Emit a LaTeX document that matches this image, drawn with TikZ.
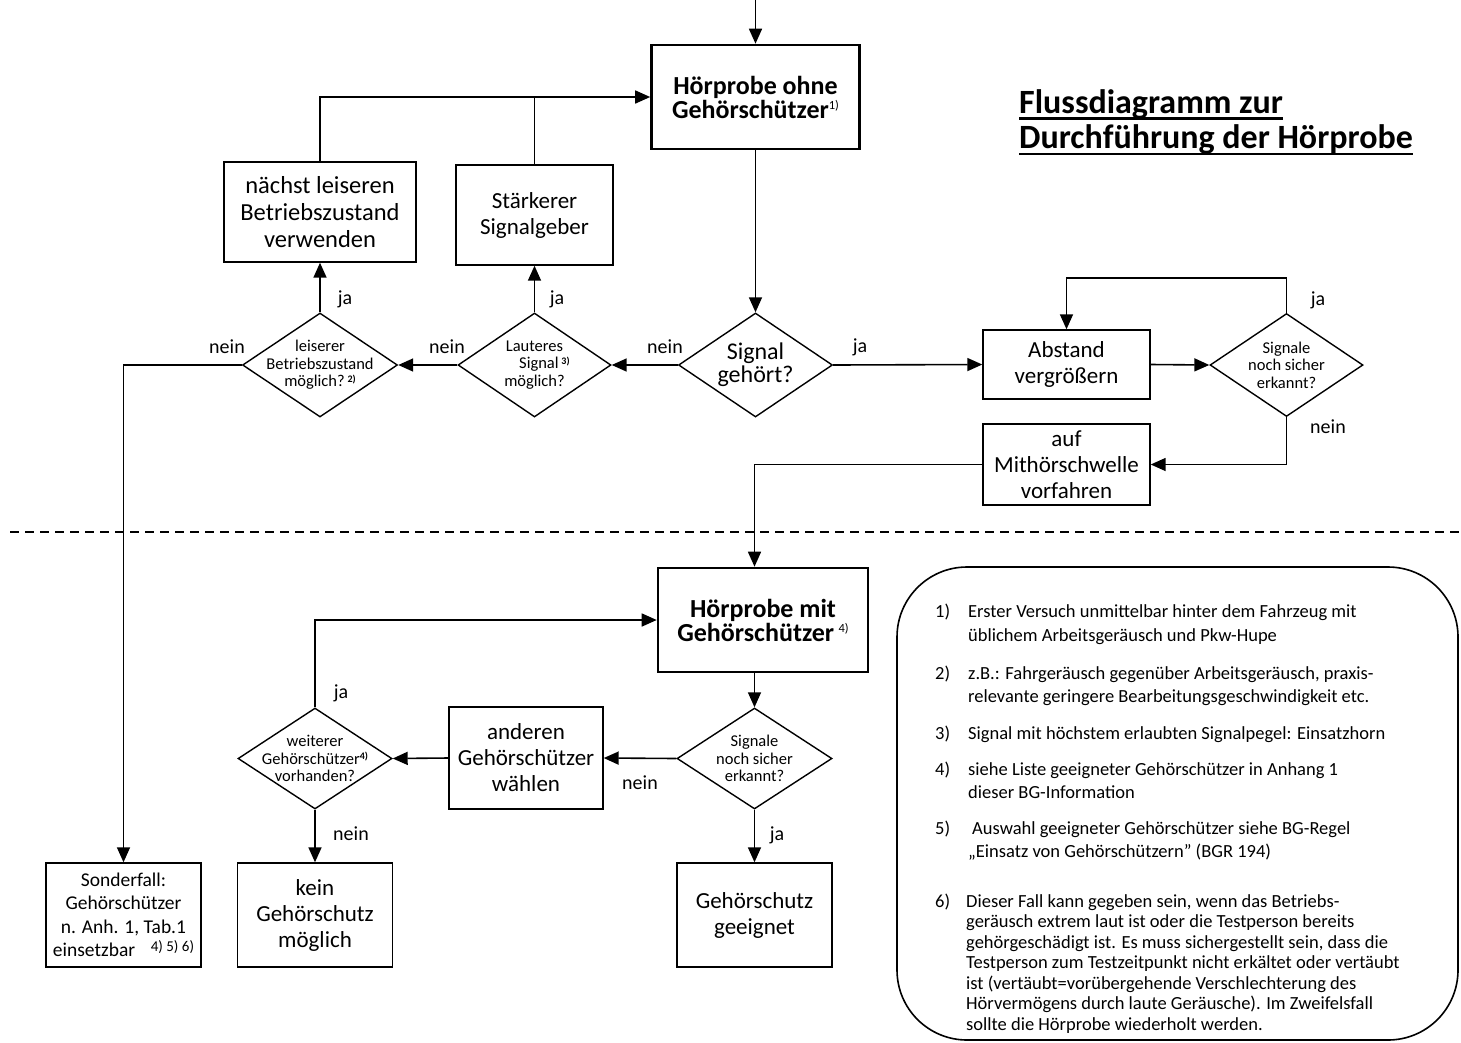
\documentclass[tikz,border=0pt]{standalone}
\usepackage{fontspec}
\setmainfont{Carlito}
\usetikzlibrary{arrows.meta,shapes.geometric,calc}
\newcommand\myfn[1]{\raisebox{0.7ex}{\mdseries\fontsize{12.5}{12.5}\selectfont #1}}
\newcommand\myfnb[1]{\raisebox{0.6ex}{\bfseries\fontsize{10}{10}\selectfont #1}}
\begin{document}
\begin{tikzpicture}[x=1pt,y=-1pt,
  box/.style={draw,line width=1.4pt,inner sep=0pt,align=center,font=\fontsize{23}{26}\selectfont},
  bbox/.style={draw,line width=2.6pt,inner sep=0pt,align=center,font=\bfseries\fontsize{26}{24}\selectfont},
  dia/.style={draw,diamond,line width=1.4pt,inner sep=0pt},
  dtext/.style={inner sep=0pt,align=center,font=\fontsize{16.5}{17.5}\selectfont},
  lab/.style={inner sep=0pt,font=\fontsize{20}{20}\selectfont},
  arr/.style={line width=1.6pt,-{Triangle[length=15pt,width=13pt]}},
  con/.style={line width=1.6pt},
  note/.style={anchor=base west,inner sep=0pt,font=\fontsize{18.5}{20}\selectfont}]
\useasboundingbox (0,0) rectangle (1461,1042);

% ---------- title ----------
\node[anchor=base west,inner sep=0pt,font=\bfseries\fontsize{34}{34}\selectfont] (t1) at (1019,113) {Flussdiagramm zur};
\node[anchor=base west,inner sep=0pt,font=\bfseries\fontsize{34}{34}\selectfont] (t2) at (1019,148) {Durchführung der Hörprobe};
\draw[line width=2.6pt] ($(t1.base west)+(0,5.5)$) -- ($(t1.base east)+(0,5.5)$);
\draw[line width=2.6pt] ($(t2.base west)+(0,6)$) -- ($(t2.base east)+(0,6)$);

% ---------- upper part ----------
\coordinate (start) at (755.5,0);
\node[bbox,minimum width=208pt,minimum height=104pt] (top) at (755.5,97) {Hörprobe ohne\\Gehörschützer\myfn{1)}};
\node[box,minimum width=192pt,minimum height=100pt,font=\fontsize{24.5}{27}\selectfont] (naechst) at (320,212) {nächst leiseren\\Betriebszustand\\verwenden};
\node[box,minimum width=157pt,minimum height=100pt] (stark) at (534.5,215) {Stärkerer\\Signalgeber};

\node[dia,minimum width=155pt,minimum height=104pt] (leis) at (320,365) {};
\node[dtext] (leist) at (leis) {leiserer\\Betriebszustand\\möglich?\,\myfnb{2)}};
\node[dia,minimum width=153pt,minimum height=104pt] (laut) at (534.5,365) {};
\node[dtext] (lautt) at (laut) {Lauteres\\\hspace*{1.2em}Signal\,\myfnb{3)}\\möglich?};
\node[dia,minimum width=154pt,minimum height=104pt] (sig) at (755.5,365) {};
\node[dtext,font=\fontsize{24}{23}\selectfont] (sigt) at (sig) {Signal\\gehört?};

\node[box,minimum width=167pt,minimum height=69pt] (abst) at (1066.5,364.5) {Abstand\\vergrößern};
\node[dia,minimum width=153pt,minimum height=103pt] (sigr) at (1286.5,365) {};
\node[dtext] (sigrt) at (sigr) {Signale\\noch sicher\\erkannt?};
\node[box,minimum width=167pt,minimum height=81pt] (auf) at (1066.5,464.5) {auf\\Mithörschwelle\\vorfahren};

% upper connectors
\draw[arr] (start) -- (top.north);
\draw[arr] (top.south) -- (sig.north);
\draw[arr] (sig.west) -- (laut.east);
\draw[arr] (laut.west) -- (leis.east);
\draw[arr] (laut.north) -- (stark.south);
\draw[arr] (leis.north) -- (naechst.south);
\draw[arr] (naechst.north) |- (top.west);
\draw[con] (stark.north) -- (stark.north |- top.west);
\draw[arr] (sig.east) -- (abst.west);
\draw[arr] (abst.east) -- (sigr.west);
\draw[arr] (sigr.north) -- ++(0,-35) -| (abst.north);
\draw[arr] (sigr.south) |- (auf.east);

\node[lab] (l1) at (665,347) {nein};
\node[lab] (l2) at (447,347) {nein};
\node[lab] (l3) at (227,347) {nein};
\node[lab] (l4) at (860,347) {ja};
\node[lab] (l5) at (557,299) {ja};
\node[lab] (l6) at (345,299) {ja};
\node[lab] (l7) at (1318,300) {ja};
\node[lab] (l8) at (1328,427) {nein};

% dashed separator
\coordinate (dl1) at (10,532);
\coordinate (dl2) at (1461,532);
\draw[line width=1.3pt,dash pattern=on 9pt off 6pt] (dl1) -- (dl2);

% ---------- lower part ----------
\node[bbox,minimum width=210pt,minimum height=104pt] (mit) at (763,620) {Hörprobe mit\\Gehörschützer\,\myfn{4)}};
\node[dia,minimum width=155pt,minimum height=101pt] (lsig) at (754.5,758.5) {};
\node[dtext] (lsigt) at (lsig) {Signale\\noch sicher\\erkannt?};
\node[box,minimum width=154pt,minimum height=102pt] (and) at (526,758) {anderen\\Gehörschützer\\wählen};
\node[dia,minimum width=154pt,minimum height=101pt] (weit) at (315,758.5) {};
\node[dtext] (weitt) at (weit) {weiterer\\Gehörschützer\myfnb{4)}\\vorhanden?};
\node[box,minimum width=155pt,minimum height=104pt,font=\fontsize{19.5}{23.5}\selectfont] (sond) at (123.5,915) {Sonderfall:\\Gehörschützer\\n. Anh. 1, Tab.1\\einsetzbar\hspace{0.8em}\raisebox{0.6ex}{\fontsize{15}{15}\selectfont 4) 5) 6)}};
\node[box,minimum width=155pt,minimum height=104pt] (kein) at (315,915) {kein\\Gehörschutz\\möglich};
\node[box,minimum width=155pt,minimum height=104pt] (geeig) at (754.5,915) {Gehörschutz\\geeignet};

\draw[arr] (leis.west) -| (sond.north);
\draw[arr] (auf.west) -| (lsig.north |- mit.north);
\draw[arr] (lsig.north |- mit.south) -- (lsig.north);
\draw[arr] (lsig.west) -- (and.east);
\draw[arr] (and.west) -- (weit.east);
\draw[arr] (weit.north) |- (mit.west);
\draw[arr] (weit.south) -- (kein.north);
\draw[arr] (lsig.south) -- (geeig.north);

\node[lab] (l9) at (341,693) {ja};
\node[lab] (l10) at (351,834) {nein};
\node[lab] (l11) at (640,783) {nein};
\node[lab] (l12) at (777,835) {ja};

% ---------- notes ----------
\node[draw,line width=1.6pt,rounded corners=70pt,minimum width=561pt,minimum height=473pt,inner sep=0pt] (notes) at (1177.5,803.5) {};

\node[note] (n1) at (935,617) {1)};
\node[note] (n1a) at (968,617) {Erster Versuch unmittelbar hinter dem Fahrzeug mit};
\node[note] (n1b) at (968,641) {üblichem Arbeitsgeräusch und Pkw-Hupe};
\node[note] (n2) at (935,679) {2)};
\node[note] (n2a) at (968,679) {z.B.: Fahrgeräusch gegenüber Arbeitsgeräusch, praxis-};
\node[note] (n2b) at (968,702) {relevante geringere Bearbeitungsgeschwindigkeit etc.};
\node[note] (n3) at (935,739) {3)};
\node[note] (n3a) at (968,739) {Signal mit höchstem erlaubten Signalpegel: Einsatzhorn};
\node[note] (n4) at (935,775) {4)};
\node[note] (n4a) at (968,775) {siehe Liste geeigneter Gehörschützer in Anhang 1};
\node[note] (n4b) at (968,798) {dieser BG-Information};
\node[note] (n5) at (935,834) {5)};
\node[note] (n5a) at (972,834) {Auswahl geeigneter Gehörschützer siehe BG-Regel};
\node[note] (n5b) at (968,857) {„Einsatz von Gehörschützern” (BGR 194)};
\node[note] (n6) at (935,907) {6)};
\node[note] (n6a) at (966,907) {Dieser Fall kann gegeben sein, wenn das Betriebs-};
\node[note] (n6b) at (966,927.5) {geräusch extrem laut ist oder die Testperson bereits};
\node[note] (n6c) at (966,948) {gehörgeschädigt ist. Es muss sichergestellt sein, dass die};
\node[note] (n6d) at (966,968.5) {Testperson zum Testzeitpunkt nicht erkältet oder vertäubt};
\node[note] (n6e) at (966,989) {ist (vertäubt=vorübergehende Verschlechterung des};
\node[note] (n6f) at (966,1009.5) {Hörvermögens durch laute Geräusche). Im Zweifelsfall};
\node[note] (n6g) at (966,1030) {sollte die Hörprobe wiederholt werden.};
\end{tikzpicture}
\end{document}
